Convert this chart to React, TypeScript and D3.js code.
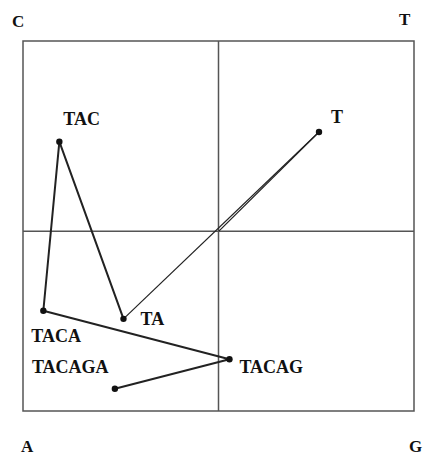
import React from "react";
import * as d3 from "d3";

// chaos game walk for the sequence TACAGA (unit square, A at origin)
const startPoint = [0.501, 0.486];
const seqLabels = ["T", "TA", "TAC", "TACA", "TACAG", "TACAGA"];
const seqX = [0.757, 0.257, 0.093, 0.052, 0.528, 0.235];
const seqY = [0.754, 0.249, 0.728, 0.271, 0.14, 0.06];

const cornerLabels = ["C", "T", "A", "G"];
const cornerX = [0, 1, 0, 1];
const cornerY = [1, 1, 0, 0];

// quadrant dividers
const divX = 0.5;
const divY = 0.486;

// label placement, in pixels from the point
const labelOffsets: [number, number][] = [
  [12, -9],
  [17, 6],
  [4, -17],
  [-12, 31],
  [10, 14],
  [-83, -16],
];
const cornerOffsets: [number, number][] = [
  [-11, -14],
  [-15, -16],
  [-2, 41],
  [-5, 41],
];

const W = 424;
const H = 455;

export default function App() {
  const x = d3.scaleLinear().domain([0, 1]).range([23, 414]);
  const y = d3.scaleLinear().domain([0, 1]).range([411, 41]);

  const pts = seqX.map((v, i) => [x(v), y(seqY[i])] as [number, number]);
  const start: [number, number] = [x(startPoint[0]), y(startPoint[1])];
  const line = d3.line();

  const font = "'Liberation Serif', 'Times New Roman', serif";

  return (
    <svg
      width={W}
      height={H}
      style={{ position: "absolute", left: 0, top: 0, background: "#fff" }}
    >
      <rect
        x={x(0)}
        y={y(1)}
        width={x(1) - x(0)}
        height={y(0) - y(1)}
        fill="none"
        stroke="#555"
        strokeWidth={1.5}
      />
      <line x1={x(divX)} x2={x(divX)} y1={y(0)} y2={y(1)} stroke="#555" strokeWidth={1.5} />
      <line x1={x(0)} x2={x(1)} y1={y(divY)} y2={y(divY)} stroke="#555" strokeWidth={1.5} />

      {/* first step and return, thin */}
      <path d={line([start, pts[0]]) || ""} fill="none" stroke="#222" strokeWidth={1.2} />
      <path d={line([pts[0], pts[1]]) || ""} fill="none" stroke="#222" strokeWidth={1.2} />
      <path d={line(pts.slice(1)) || ""} fill="none" stroke="#222" strokeWidth={2} strokeLinejoin="round" />

      {pts.map((p, i) => (
        <circle key={i} cx={p[0]} cy={p[1]} r={3.2} fill="#111" />
      ))}

      {pts.map((p, i) => (
        <text
          key={seqLabels[i]}
          x={p[0] + labelOffsets[i][0]}
          y={p[1] + labelOffsets[i][1]}
          fontFamily={font}
          fontWeight="bold"
          fontSize={18}
          fill="#111"
        >
          {seqLabels[i]}
        </text>
      ))}

      {cornerLabels.map((c, i) => (
        <text
          key={c + i}
          x={x(cornerX[i]) + cornerOffsets[i][0]}
          y={y(cornerY[i]) + cornerOffsets[i][1]}
          fontFamily={font}
          fontWeight="bold"
          fontSize={17}
          fill="#111"
        >
          {c}
        </text>
      ))}
    </svg>
  );
}
